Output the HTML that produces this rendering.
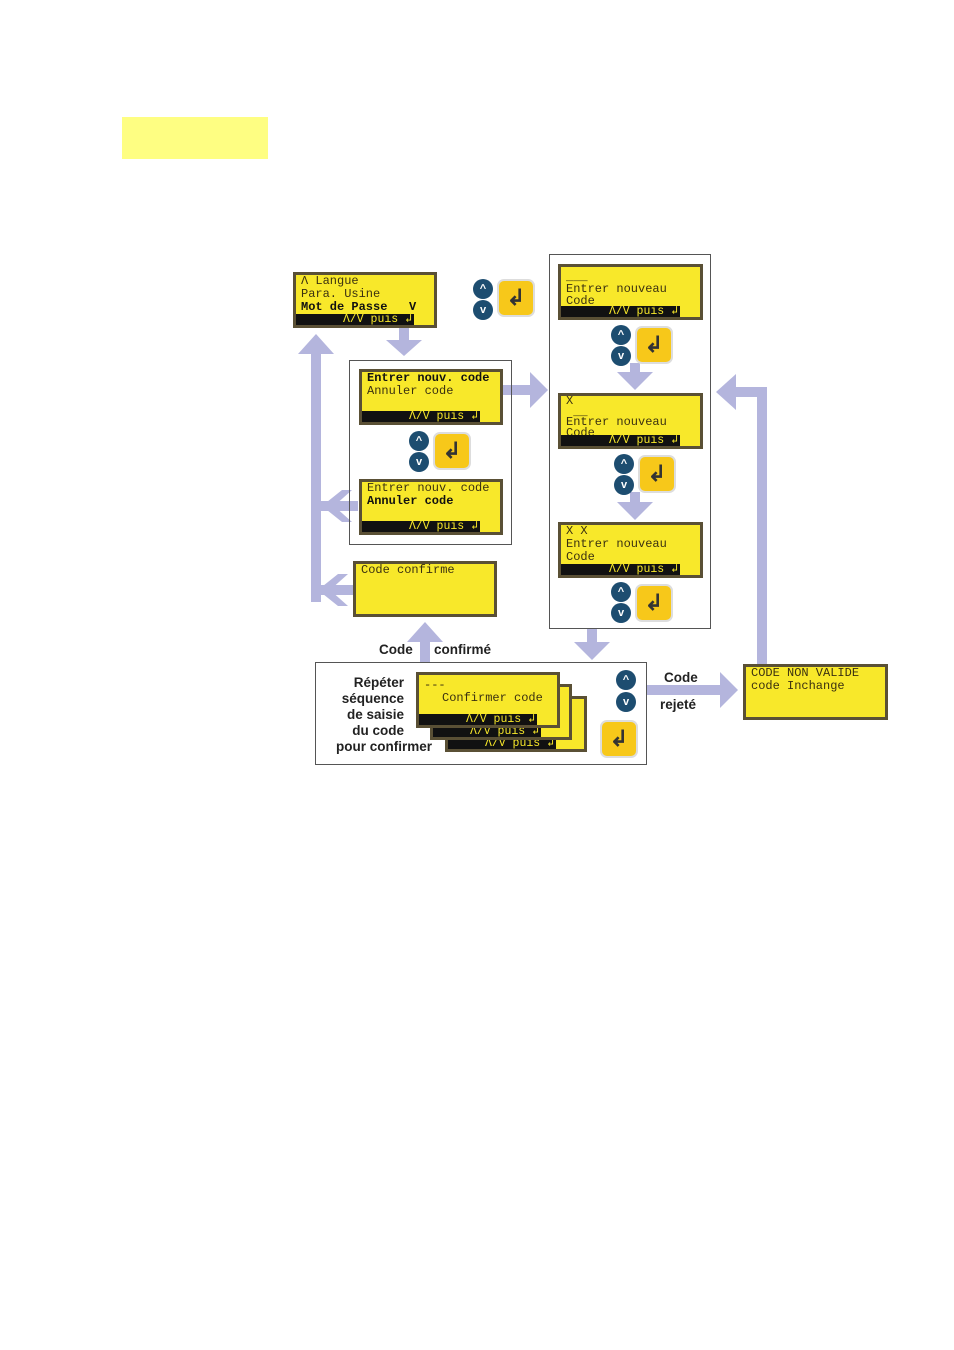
<!DOCTYPE html>
<html><head><meta charset="utf-8"><style>
body{margin:0;width:954px;height:1350px;background:#fff;position:relative;overflow:hidden;font-family:"Liberation Sans",sans-serif}
.a{position:absolute}
.lcd{position:absolute;background:#f8e82a;border:3px solid #5a5035;box-sizing:border-box;font-family:"Liberation Mono","DejaVu Sans Mono",monospace;font-size:12px;line-height:13px;color:#3a3010;padding:0 5px;overflow:hidden;white-space:nowrap}
.lcd b{color:#111}
.bar{position:absolute;left:0;right:20px;bottom:0;height:11px;background:#111;color:#f8e82a;font-size:11.5px;line-height:11px;text-align:right;padding-right:2px;font-family:"Liberation Mono",monospace}
.box{position:absolute;border:1.5px solid #555;box-sizing:border-box}
.c{position:absolute;width:20px;height:20px;border-radius:50%;background:#1d4d70;color:#fff;font-size:11px;line-height:20px;text-align:center;font-weight:bold}
.en{position:absolute;width:38px;height:38px;border-radius:7px;background:#f7c81a;border:2px solid #ddd;box-sizing:border-box;color:#333;font-size:22px;line-height:34px;text-align:center;font-weight:bold}
.lbl{position:absolute;font-weight:bold;font-size:13.5px;color:#222;white-space:nowrap}
</style></head><body>
<div class="a" style="left:122px;top:117px;width:146px;height:42px;background:#fefe82"></div>

<svg class="a" style="left:0;top:0" width="954" height="1350">
<g fill="none" stroke="#b4b5dd" stroke-width="10">
<path d="M316 348 V602"/>
<path d="M316 506 H358"/><path d="M316 590 H354"/>
<path d="M404 328 V346"/>
<path d="M502 390 H534"/>
<path d="M635 363 V378"/><path d="M635 492 V508"/>
<path d="M592 628 V648"/>
<path d="M425 662 V636"/>
<path d="M646 690 H722"/>
<path d="M762 664 V392 H730"/>
</g>
<g fill="#b4b5dd">
<polygon points="298,354 316,334 334,354"/>
<polygon points="342,490 322,506 342,522 352,522 334,506 352,490"/>
<polygon points="338,574 318,590 338,606 348,606 330,590 348,574"/>
<polygon points="386,340 404,356 422,340"/>
<polygon points="530,372 548,390 530,408"/>
<polygon points="617,372 635,390 653,372"/>
<polygon points="617,502 635,520 653,502"/>
<polygon points="574,642 592,660 610,642"/>
<polygon points="407,642 425,622 443,642"/>
<polygon points="720,672 738,690 720,708"/>
<polygon points="736,374 716,392 736,410"/>
</g>
</svg>

<div class="box" style="left:349px;top:360px;width:163px;height:185px"></div>
<div class="box" style="left:549px;top:254px;width:162px;height:375px"></div>
<div class="box" style="left:315px;top:662px;width:332px;height:103px"></div>

<div class="lcd" style="left:293px;top:272px;width:144px;height:56px">Λ Langue<br>Para. Usine<br><b>Mot de Passe&nbsp;&nbsp;&nbsp;V</b><div class="bar">Λ/V puis ↲</div></div>
<div class="lcd" style="left:359px;top:369px;width:144px;height:56px"><b>Entrer nouv. code</b><br>Annuler code<div class="bar">Λ/V puis ↲</div></div>
<div class="lcd" style="left:359px;top:479px;width:144px;height:56px">Entrer nouv. code<br><b>Annuler code</b><div class="bar">Λ/V puis ↲</div></div>
<div class="lcd" style="left:353px;top:561px;width:144px;height:56px">Code confirme</div>
<div class="lcd" style="left:558px;top:264px;width:145px;height:56px;padding-top:4px;line-height:12px">___<br>Entrer nouveau<br>Code<div class="bar">Λ/V puis ↲</div></div>
<div class="lcd" style="left:558px;top:393px;width:145px;height:56px;line-height:10.5px">X<br>&nbsp;__<br>Entrer nouveau<br>Code<div class="bar">Λ/V puis ↲</div></div>
<div class="lcd" style="left:558px;top:522px;width:145px;height:56px">X X<br>Entrer nouveau<br>Code<div class="bar">Λ/V puis ↲</div></div>
<div class="lcd" style="left:743px;top:664px;width:145px;height:56px">CODE NON VALIDE<br>code Inchange</div>

<div class="lcd" style="left:445px;top:696px;width:142px;height:56px;padding:0"><div class="bar" style="right:28px">Λ/V puis ↲</div></div>
<div class="lcd" style="left:430px;top:684px;width:142px;height:56px;padding:0"><div class="bar" style="right:28px">Λ/V puis ↲</div></div>
<div class="lcd" style="left:416px;top:672px;width:144px;height:56px;padding:4px 5px 0">---<br><span style="padding-left:18px">Confirmer code</span><div class="bar">Λ/V puis ↲</div></div>

<div class="c" style="left:473px;top:279px">^</div><div class="c" style="left:473px;top:300px">v</div><div class="en" style="left:497px;top:279px">↲</div>
<div class="c" style="left:409px;top:431px">^</div><div class="c" style="left:409px;top:452px">v</div><div class="en" style="left:433px;top:432px">↲</div>
<div class="c" style="left:611px;top:325px">^</div><div class="c" style="left:611px;top:346px">v</div><div class="en" style="left:635px;top:326px">↲</div>
<div class="c" style="left:614px;top:454px">^</div><div class="c" style="left:614px;top:475px">v</div><div class="en" style="left:638px;top:455px">↲</div>
<div class="c" style="left:611px;top:582px">^</div><div class="c" style="left:611px;top:603px">v</div><div class="en" style="left:635px;top:584px">↲</div>
<div class="c" style="left:616px;top:670px">^</div><div class="c" style="left:616px;top:692px">v</div><div class="en" style="left:600px;top:720px">↲</div>

<div class="lbl" style="left:379px;top:642px">Code</div>
<div class="lbl" style="left:434px;top:642px">confirmé</div>
<div class="lbl" style="left:664px;top:670px">Code</div>
<div class="lbl" style="left:660px;top:697px">rejeté</div>
<div class="lbl" style="left:318px;top:675px;width:86px;text-align:right;line-height:16px">Répéter<br>séquence<br>de saisie<br>du code<br><span style="margin-right:-28px">pour confirmer</span></div>
</body></html>
